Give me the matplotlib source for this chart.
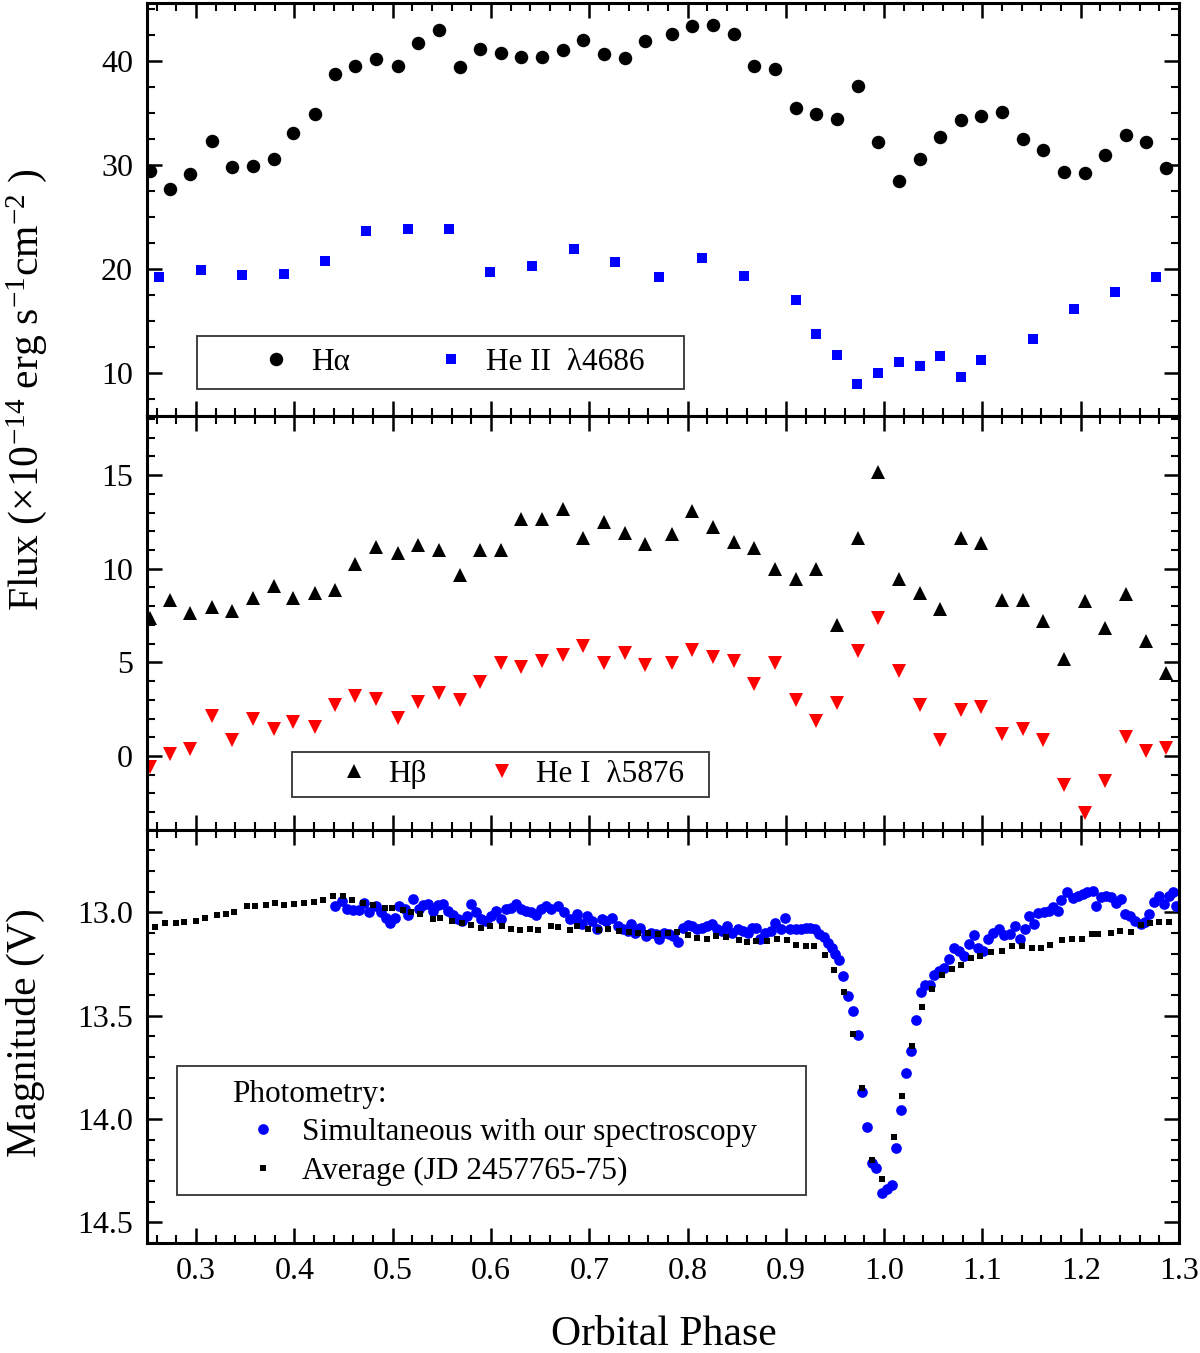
import numpy as np
import matplotlib.pyplot as plt
from matplotlib.ticker import MultipleLocator, FormatStrFormatter
from matplotlib.patches import Rectangle

plt.rcParams['font.family'] = ['Liberation Serif', 'DejaVu Serif']
plt.rcParams['mathtext.fontset'] = 'custom'
plt.rcParams['mathtext.rm'] = 'Liberation Serif'
plt.rcParams['mathtext.it'] = 'Liberation Serif:italic'

# ---- dados espectroscopicos (fase orbital) ----
spec_phase = [0.253, 0.273, 0.294, 0.316, 0.336, 0.358, 0.379, 0.399, 0.421, 0.441,
              0.462, 0.483, 0.505, 0.526, 0.547, 0.568, 0.589, 0.610, 0.631, 0.652,
              0.673, 0.694, 0.715, 0.736, 0.757, 0.784, 0.805, 0.826, 0.847, 0.868,
              0.889, 0.910, 0.931, 0.952, 0.973, 0.994, 1.015, 1.036, 1.057, 1.078,
              1.099, 1.120, 1.141, 1.162, 1.183, 1.204, 1.225, 1.246, 1.266, 1.287]

ha_flux = [29.45, 27.68, 29.2, 32.3, 29.8, 29.9, 30.6, 33.06, 34.9, 38.8,
           39.6, 40.2, 39.6, 41.8, 43.06, 39.45, 41.16, 40.8, 40.4, 40.4,
           41.1, 42.06, 40.74, 40.3, 42.0, 42.6, 43.4, 43.55, 42.6, 39.6,
           39.26, 35.5, 34.9, 34.45, 37.6, 32.26, 28.45, 30.6, 32.7, 34.35,
           34.7, 35.1, 32.5, 31.5, 29.4, 29.26, 31.0, 32.9, 32.2, 29.7]

hb_flux = [7.36, 8.32, 7.61, 7.97, 7.75, 8.46, 9.09, 8.46, 8.68, 8.85,
           10.24, 11.16, 10.86, 11.25, 10.99, 9.67, 11.02, 10.99, 12.64, 12.64,
           13.17, 11.66, 12.5, 11.9, 11.3, 11.87, 13.06, 12.25, 11.45, 11.13,
           10.0, 9.44, 9.96, 7.0, 11.63, 15.16, 9.44, 8.73, 7.84, 11.66,
           11.39, 8.32, 8.32, 7.22, 5.18, 8.29, 6.83, 8.64, 6.15, 4.43]

hei_flux = [-0.6, 0.12, 0.38, 2.16, 0.83, 1.98, 1.45, 1.8, 1.57, 2.73,
            3.22, 3.05, 2.03, 2.87, 3.35, 3.01, 3.93, 4.96, 4.73, 5.09,
            5.41, 5.89, 4.96, 5.48, 4.86, 4.95, 5.66, 5.27, 5.09, 3.85,
            4.95, 3.01, 1.89, 2.82, 5.62, 7.36, 4.56, 2.73, 0.83, 2.43,
            2.64, 1.15, 1.45, 0.83, -1.57, -3.05, -1.36, 1.0, 0.29, 0.42]

heii_phase = [0.262, 0.305, 0.347, 0.389, 0.431, 0.473, 0.516, 0.557, 0.599, 0.642,
              0.684, 0.726, 0.771, 0.815, 0.857, 0.910, 0.931, 0.952, 0.972, 0.994,
              1.015, 1.036, 1.057, 1.078, 1.099, 1.151, 1.193, 1.235, 1.277]
heii_flux = [19.2, 19.9, 19.45, 19.5, 20.8, 23.65, 23.9, 23.9, 19.7, 20.26,
             21.9, 20.7, 19.26, 21.1, 19.3, 17.0, 13.8, 11.7, 8.9, 10.0,
             11.06, 10.7, 11.6, 9.65, 11.3, 13.26, 16.2, 17.8, 19.2]

# ---- fotometria simultanea ----
phot_phase = [0.441, 0.448, 0.453, 0.460, 0.466, 0.471, 0.476, 0.483, 0.488, 0.493,
              0.497, 0.502, 0.506, 0.512, 0.516, 0.521, 0.527, 0.531, 0.536, 0.541,
              0.546, 0.551, 0.556, 0.561, 0.566, 0.571, 0.576, 0.580, 0.585, 0.590,
              0.595, 0.600, 0.605, 0.610, 0.615, 0.620, 0.625, 0.631, 0.636, 0.641,
              0.646, 0.651, 0.656, 0.661, 0.668, 0.674, 0.680, 0.686, 0.688, 0.693,
              0.698, 0.703, 0.708, 0.713, 0.717, 0.723, 0.729, 0.734, 0.739, 0.742,
              0.747, 0.752, 0.758, 0.763, 0.768, 0.771, 0.776, 0.781, 0.785, 0.790,
              0.795, 0.800, 0.805, 0.810, 0.815, 0.820, 0.825, 0.830, 0.835, 0.840,
              0.845, 0.851, 0.856, 0.861, 0.866, 0.870, 0.874, 0.879, 0.885, 0.889,
              0.895, 0.899, 0.904, 0.910, 0.915, 0.920, 0.925, 0.930, 0.934, 0.939,
              0.943, 0.947, 0.950, 0.954, 0.958, 0.963, 0.968, 0.973, 0.977, 0.983,
              0.988, 0.992, 0.998, 1.003, 1.008, 1.012, 1.017, 1.022, 1.027, 1.032,
              1.037, 1.042, 1.047, 1.051, 1.056, 1.061, 1.066, 1.071, 1.076, 1.081,
              1.086, 1.091, 1.096, 1.101, 1.106, 1.111, 1.117, 1.122, 1.128, 1.133,
              1.138, 1.143, 1.147, 1.152, 1.157, 1.163, 1.168, 1.172, 1.177, 1.180,
              1.186, 1.192, 1.197, 1.202, 1.206, 1.212, 1.216, 1.221, 1.226, 1.231,
              1.236, 1.241, 1.245, 1.250, 1.255, 1.261, 1.265, 1.269, 1.275, 1.280,
              1.285, 1.290, 1.294, 1.297]
phot_mag = [12.97, 12.945, 12.982, 12.989, 12.989, 12.956, 13.0, 12.97, 13.0, 13.026,
            13.053, 13.026, 12.97, 12.985, 13.015, 12.937, 12.985, 12.966, 12.96, 12.994,
            12.966, 12.96, 12.994, 13.015, 13.034, 13.042, 13.018, 12.96, 13.0, 13.034,
            13.042, 13.018, 12.994, 13.034, 12.985, 12.977, 12.96, 12.985, 12.994, 13.0,
            13.015, 12.985, 12.97, 12.985, 12.97, 13.0, 13.034, 13.026, 13.01, 13.058,
            13.018, 13.042, 13.079, 13.031, 13.042, 13.026, 13.066, 13.082, 13.09, 13.058,
            13.098, 13.074, 13.115, 13.098, 13.106, 13.13, 13.098, 13.106, 13.115, 13.144,
            13.074, 13.063, 13.066, 13.082, 13.074, 13.066, 13.058, 13.082, 13.09, 13.066,
            13.098, 13.082, 13.09, 13.098, 13.074, 13.074, 13.13, 13.098, 13.09, 13.05,
            13.082, 13.026, 13.082, 13.079, 13.079, 13.074, 13.074, 13.079, 13.106, 13.122,
            13.147, 13.171, 13.203, 13.231, 13.31, 13.405, 13.476, 13.592, 13.87, 14.037,
            14.212, 14.236, 14.357, 14.337, 14.317, 14.139, 13.958, 13.776, 13.669, 13.519,
            13.386, 13.353, 13.353, 13.302, 13.286, 13.27, 13.227, 13.171, 13.187, 13.214,
            13.155, 13.111, 13.171, 13.187, 13.127, 13.098, 13.081, 13.11, 13.105, 13.065,
            13.129, 13.081, 13.016, 13.056, 13.003, 13.0, 12.992, 12.976, 12.992, 12.939,
            12.903, 12.932, 12.919, 12.911, 12.903, 12.895, 12.968, 12.927, 12.919, 12.927,
            12.955, 12.935, 13.008, 13.016, 13.04, 13.056, 13.048, 13.008, 12.948, 12.919,
            12.96, 12.919, 12.903, 12.968]

# ---- curva media (JD 2457765-75) ----
avg_phase = [0.258, 0.268, 0.279, 0.288, 0.300, 0.309, 0.321, 0.330, 0.339, 0.352,
             0.360, 0.371, 0.380, 0.389, 0.400, 0.410, 0.420, 0.429, 0.439, 0.449,
             0.459, 0.470, 0.480, 0.492, 0.499, 0.510, 0.519, 0.528, 0.541, 0.548,
             0.560, 0.570, 0.580, 0.590, 0.599, 0.611, 0.620, 0.630, 0.640, 0.648,
             0.661, 0.668, 0.680, 0.688, 0.699, 0.710, 0.719, 0.730, 0.740, 0.750,
             0.760, 0.770, 0.780, 0.789, 0.800, 0.810, 0.820, 0.829, 0.839, 0.852,
             0.860, 0.870, 0.881, 0.891, 0.901, 0.910, 0.920, 0.929, 0.940, 0.949,
             0.959, 0.968, 0.977, 0.988, 0.998, 1.010, 1.018, 1.028, 1.039, 1.049,
             1.059, 1.069, 1.078, 1.088, 1.098, 1.109, 1.120, 1.130, 1.140, 1.150,
             1.160, 1.169, 1.181, 1.191, 1.201, 1.211, 1.218, 1.231, 1.240, 1.251,
             1.261, 1.271, 1.280, 1.290]
avg_mag = [13.07, 13.05, 13.05, 13.047, 13.04, 13.03, 13.013, 13.008, 12.997, 12.97,
           12.97, 12.963, 12.955, 12.964, 12.96, 12.956, 12.95, 12.94, 12.921, 12.921,
           12.94, 12.955, 12.965, 12.977, 12.977, 12.99, 13.0, 13.01, 13.034, 13.026,
           13.042, 13.05, 13.063, 13.074, 13.066, 13.066, 13.079, 13.086, 13.082, 13.086,
           13.066, 13.069, 13.086, 13.066, 13.08, 13.085, 13.08, 13.09, 13.095, 13.1,
           13.1, 13.105, 13.1, 13.095, 13.11, 13.126, 13.13, 13.115, 13.12, 13.136,
           13.142, 13.137, 13.14, 13.13, 13.136, 13.158, 13.163, 13.163, 13.208, 13.277,
           13.386, 13.587, 13.849, 14.2, 14.288, 14.086, 13.889, 13.647, 13.456, 13.373,
           13.303, 13.276, 13.253, 13.223, 13.211, 13.192, 13.189, 13.162, 13.162, 13.173,
           13.173, 13.157, 13.133, 13.13, 13.13, 13.105, 13.105, 13.1, 13.092, 13.094,
           13.06, 13.052, 13.049, 13.045]

FS_TICK = 23
FS_LEG = 22.5
FS_LAB = 30

fig, (ax1, ax2, ax3) = plt.subplots(3, 1, sharex=True, figsize=(12, 13.53), dpi=100)
fig.subplots_adjust(left=0.1225, right=0.9825, top=0.998, bottom=0.0813, hspace=0)


def framed_legend(ax, handles, box, center, **kw):
    # caixa da legenda desenhada a mao
    ax.add_patch(Rectangle(box[:2], box[2], box[3], transform=ax.transAxes,
                           facecolor='white', edgecolor='#333333', lw=1.3, zorder=5))
    leg = ax.legend(handles=handles, loc='center', bbox_to_anchor=center,
                    frameon=False, fontsize=FS_LEG, borderpad=0, **kw)
    leg.set_zorder(6)
    return leg


# painel 1: Halpha e He II
h1, = ax1.plot(spec_phase, ha_flux, 'o', color='black', ms=9.7, mew=0, label='H\u03b1')
h2, = ax1.plot(heii_phase, heii_flux, 's', color='#0000ff', ms=7.2, mew=0,
               label='He II  \u03bb4686')
ax1.set_ylim(5.85, 45.65)
ax1.yaxis.set_major_locator(MultipleLocator(10))
ax1.yaxis.set_minor_locator(MultipleLocator(2.5))
framed_legend(ax1, [h1, h2], (0.0484, 0.0645, 0.472, 0.13), (0.296, 0.1297),
              ncol=2, handlelength=1.0, handletextpad=0.6, columnspacing=2.75)

# painel 2: Hbeta e He I
h3, = ax2.plot(spec_phase, hb_flux, '^', color='black', ms=10.5, mew=0, label='H\u03b2')
h4, = ax2.plot(spec_phase, hei_flux, 'v', color='#ff0000', ms=10.5, mew=0,
               label='He I  \u03bb5876')
ax2.set_ylim(-3.93, 18.15)
ax2.yaxis.set_major_locator(MultipleLocator(5))
ax2.yaxis.set_minor_locator(MultipleLocator(1))
framed_legend(ax2, [h3, h4], (0.1405, 0.0798, 0.404, 0.109), (0.353, 0.134),
              ncol=2, handlelength=1.0, handletextpad=0.6, columnspacing=1.9)

# painel 3: fotometria
h5, = ax3.plot(phot_phase, phot_mag, 'o', color='#0000ff', ms=7.7, mew=0,
               label='Simultaneous with our spectroscopy')
h6, = ax3.plot(avg_phase, avg_mag, 's', color='black', ms=4.1, mew=0,
               label='Average (JD 2457765-75)')
ax3.set_ylim(14.6, 12.6)
ax3.yaxis.set_major_locator(MultipleLocator(0.5))
ax3.yaxis.set_minor_locator(MultipleLocator(0.1))
ax3.yaxis.set_major_formatter(FormatStrFormatter('%.1f'))
ax3.add_patch(Rectangle((0.029, 0.1154), 0.6095, 0.3125, transform=ax3.transAxes,
                        facecolor='white', edgecolor='#333333', lw=1.3, zorder=5))
leg3 = ax3.legend(handles=[h5, h6], loc='upper left', bbox_to_anchor=(0.067, 0.432),
                  frameon=False, fontsize=FS_LEG, title='Photometry:',
                  title_fontsize=FS_LEG, alignment='left', borderpad=0,
                  handlelength=2.0, handletextpad=0.25, labelspacing=0.3)
leg3.set_zorder(6)

ax3.set_xlim(0.25, 1.3)
ax3.xaxis.set_major_locator(MultipleLocator(0.1))
ax3.xaxis.set_minor_locator(MultipleLocator(0.02))
ax3.xaxis.set_major_formatter(FormatStrFormatter('%.1f'))

for ax in (ax1, ax2, ax3):
    ax.tick_params(which='both', direction='in', top=True, right=True,
                   labelsize=FS_TICK, pad=10)
    ax.tick_params(which='major', length=11, width=1.8)
    ax.tick_params(which='minor', length=6, width=1.5)
    for s in ax.spines.values():
        s.set_linewidth(2.2)

fig.text(0.022, 0.712, 'Flux (\u00d710$^{-14}$ erg s$^{-1}$cm$^{-2}$ )', rotation=90,
         ha='center', va='center', fontsize=FS_LAB)
fig.text(0.021, 0.2365, 'Magnitude (V)', rotation=90, ha='center', va='center',
         fontsize=FS_LAB)
fig.text(0.553, 0.0132, 'Orbital Phase', ha='center', va='center', fontsize=FS_LAB)

fig.savefig('out.png', dpi=100)
